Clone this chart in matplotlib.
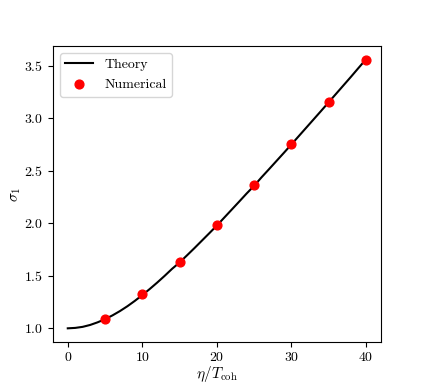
import matplotlib
matplotlib.use("Agg")
import matplotlib.pyplot as plt

plt.rcParams['font.family'] = 'serif'
plt.rcParams['font.serif'] = ['cmr10']
plt.rcParams['mathtext.fontset'] = 'cm'
plt.rcParams['axes.formatter.use_mathtext'] = True

theory_x = list(range(0, 41))
theory_y = [1.000, 1.004, 1.014, 1.032, 1.057, 1.087, 1.123, 1.164, 1.210, 1.261,
            1.316, 1.374, 1.435, 1.499, 1.566, 1.626, 1.694, 1.763, 1.834, 1.905,
            1.977, 2.053, 2.129, 2.205, 2.282, 2.355, 2.436, 2.513, 2.591, 2.669,
            2.748, 2.828, 2.908, 2.988, 3.068, 3.149, 3.230, 3.311, 3.392, 3.475,
            3.557]

num_x = [5, 10, 15, 20, 25, 30, 35, 40]
num_y = [1.088, 1.322, 1.630, 1.980, 2.360, 2.750, 3.149, 3.557]

fig, ax = plt.subplots(figsize=(4.23, 3.84), dpi=100)
ax.plot(theory_x, theory_y, color='black', lw=1.5, label='Theory', zorder=2)
ax.scatter(num_x, num_y, color='red', s=40, label='Numerical', zorder=3)
ax.set_xlabel(r'$\eta/T_{\mathrm{coh}}$', fontsize=11, labelpad=0)
ax.set_ylabel(r'$\sigma_1$', fontsize=11, labelpad=1)
ax.set_xticks([0, 10, 20, 30, 40])
ax.set_yticks([1.0, 1.5, 2.0, 2.5, 3.0, 3.5])
ax.legend(loc='upper left')
fig.savefig('out.png', dpi=100)
